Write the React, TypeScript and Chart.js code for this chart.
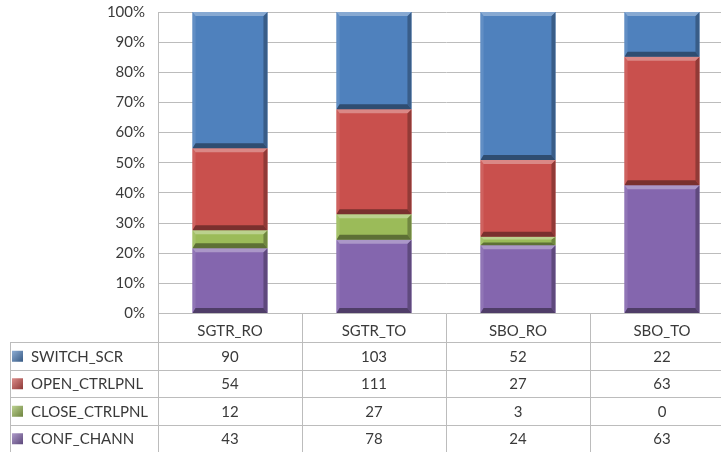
import { useEffect, useRef } from "react";
import { Chart, registerables } from "chart.js";

Chart.register(...registerables);

// Scenario categories along the x axis
const categories = ["SGTR_RO", "SGTR_TO", "SBO_RO", "SBO_TO"];

// Raw counts per series (same order as categories)
const switchScr = [90, 103, 52, 22];
const openCtrlpnl = [54, 111, 27, 63];
const closeCtrlpnl = [12, 27, 3, 0];
const confChann = [43, 78, 24, 63];

// Series names / colours, listed top row first as in the data table
const seriesNames = ["SWITCH_SCR", "OPEN_CTRLPNL", "CLOSE_CTRLPNL", "CONF_CHANN"];
const seriesValues = [switchScr, openCtrlpnl, closeCtrlpnl, confChann];
const seriesColors = ["#4F81BD", "#C9504D", "#9BBB59", "#8466AE"];

const FONT = "Lato, 'Open Sans', sans-serif";
const TEXT = "#3a3a3a";
const LINE = "#bcbcbc";

const totals = categories.map((_, i) =>
  seriesValues.reduce((s, arr) => s + arr[i], 0)
);
const toPercent = (arr: number[]) => arr.map((v, i) => (v / totals[i]) * 100);

function mix(hex: string, target: number, amt: number) {
  const n = parseInt(hex.slice(1), 16);
  const c = [(n >> 16) & 255, (n >> 8) & 255, n & 255].map((v) =>
    Math.round(v + (target - v) * amt)
  );
  return `rgb(${c[0]},${c[1]},${c[2]})`;
}

// Draws a bevelled edge around each stacked segment
const bevelPlugin = {
  id: "bevel",
  afterDatasetsDraw(chart: any) {
    const ctx = chart.ctx;
    chart.data.datasets.forEach((ds: any, di: number) => {
      const meta = chart.getDatasetMeta(di);
      const base = ds.backgroundColor as string;
      meta.data.forEach((el: any) => {
        const p = el.getProps(["x", "y", "base", "width"], true);
        const left = p.x - p.width / 2;
        const right = p.x + p.width / 2;
        const top = Math.min(p.y, p.base);
        const bottom = Math.max(p.y, p.base);
        const h = bottom - top;
        if (h < 0.5) return;
        const bt = Math.min(4, h / 3);
        const bb = Math.min(5, h / 3);
        const bl = 3;
        const br = 4;
        const poly = (pts: number[][], fill: string) => {
          ctx.beginPath();
          ctx.moveTo(pts[0][0], pts[0][1]);
          for (let k = 1; k < pts.length; k++) ctx.lineTo(pts[k][0], pts[k][1]);
          ctx.closePath();
          ctx.fillStyle = fill;
          ctx.fill();
        };
        ctx.save();
        poly(
          [[left, top], [left + bl, top + bt], [left + bl, bottom - bb], [left, bottom]],
          mix(base, 255, 0.1)
        );
        poly(
          [[right, top], [right, bottom], [right - br, bottom - bb], [right - br, top + bt]],
          mix(base, 0, 0.28)
        );
        poly(
          [[left, top], [right, top], [right - br, top + bt], [left + bl, top + bt]],
          mix(base, 255, 0.32)
        );
        poly(
          [[left, bottom], [left + bl, bottom - bb], [right - br, bottom - bb], [right, bottom]],
          mix(base, 0, 0.4)
        );
        ctx.restore();
      });
    });
  },
};

// Data table under the plot: legend keys + raw values per category
const tablePlugin = {
  id: "dataTable",
  afterDraw(chart: any) {
    const ctx = chart.ctx;
    const x = chart.scales.x;
    const area = chart.chartArea;
    const W = chart.width;
    const half = (x.getPixelForValue(1) - x.getPixelForValue(0)) / 2;
    const axisY = area.bottom;
    const headerBottom = axisY + 28.5;
    const rowH = 27.5;
    const tableLeft = 10;
    const crisp = (v: number) => Math.round(v) + 0.5;

    ctx.save();
    ctx.strokeStyle = LINE;
    ctx.lineWidth = 1;
    ctx.beginPath();
    for (let r = 0; r <= seriesNames.length; r++) {
      const yy = crisp(headerBottom + r * rowH);
      ctx.moveTo(tableLeft, yy);
      ctx.lineTo(W, yy);
    }
    const bottom = headerBottom + seriesNames.length * rowH;
    ctx.moveTo(crisp(tableLeft), crisp(headerBottom));
    ctx.lineTo(crisp(tableLeft), bottom);
    categories.forEach((_, i) => {
      const bx = crisp(x.getPixelForValue(i) - half);
      ctx.moveTo(bx, i === 0 ? area.top : axisY);
      ctx.lineTo(bx, bottom);
    });
    ctx.moveTo(crisp(x.getPixelForValue(categories.length - 1) + half), axisY);
    ctx.lineTo(crisp(x.getPixelForValue(categories.length - 1) + half), bottom);
    ctx.stroke();

    ctx.font = `15px ${FONT}`;
    ctx.textBaseline = "middle";
    seriesNames.forEach((name, r) => {
      const cy = headerBottom + r * rowH + rowH / 2;
      const col = seriesColors[r];
      const g = ctx.createLinearGradient(12, cy - 5, 23, cy + 6);
      g.addColorStop(0, mix(col, 255, 0.35));
      g.addColorStop(1, mix(col, 0, 0.3));
      ctx.fillStyle = g;
      ctx.fillRect(12, cy - 5, 11, 11);
      ctx.fillStyle = TEXT;
      ctx.textAlign = "left";
      ctx.fillText(name, 31, cy + 1);
      ctx.textAlign = "center";
      seriesValues[r].forEach((v, i) => {
        ctx.fillText(String(v), x.getPixelForValue(i), cy + 1);
      });
    });
    ctx.restore();
  },
};

export default function App() {
  const ref = useRef<HTMLCanvasElement>(null);

  useEffect(() => {
    if (!ref.current) return;
    // stacked bottom-up: CONF_CHANN first, SWITCH_SCR on top
    const order = [3, 2, 1, 0];
    const chart = new Chart(ref.current, {
      type: "bar",
      data: {
        labels: categories,
        datasets: order.map((k) => ({
          label: seriesNames[k],
          data: toPercent(seriesValues[k]),
          backgroundColor: seriesColors[k],
          borderWidth: 0,
          barPercentage: 0.52,
          categoryPercentage: 1,
        })),
      },
      options: {
        responsive: false,
        animation: false,
        devicePixelRatio: 1,
        layout: { padding: { top: 12, right: 2, bottom: 110.5, left: 0 } },
        plugins: { legend: { display: false }, tooltip: { enabled: false } },
        scales: {
          x: {
            stacked: true,
            grid: { display: false },
            border: { display: false },
            ticks: { font: { family: FONT, size: 15 }, color: TEXT, padding: 1 },
            afterFit: (s: any) => {
              s.height = 28;
            },
          },
          y: {
            stacked: true,
            min: 0,
            max: 100,
            ticks: {
              stepSize: 10,
              callback: (v: any) => `${v}%`,
              font: { family: FONT, size: 15 },
              color: TEXT,
              padding: 0,
            },
            grid: { color: LINE, drawTicks: true, tickLength: 13, tickColor: "rgba(0,0,0,0)" },
            border: { color: LINE },
            afterFit: (s: any) => {
              s.width = 158;
            },
          },
        },
      },
      plugins: [bevelPlugin, tablePlugin],
    });
    return () => chart.destroy();
  }, []);

  return (
    <div
      style={{
        position: "fixed",
        left: 0,
        top: 0,
        width: 721,
        height: 452,
        overflow: "hidden",
        background: "#fff",
      }}
    >
      <canvas ref={ref} width={736} height={452} style={{ width: 736, height: 452, display: "block" }} />
    </div>
  );
}
